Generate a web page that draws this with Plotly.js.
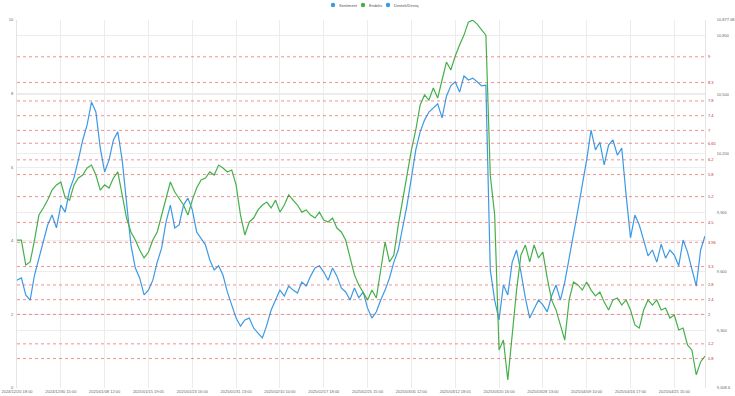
<!DOCTYPE html>
<html><head><meta charset="utf-8">
<script src="https://cdn.plot.ly/plotly-3.0.1.min.js"></script>
<style>html,body{margin:0;padding:0;background:#fff}#chart{width:735px;height:396px}</style>
</head><body><div id="chart"></div>
<script>
const tickLabels = ["2024/12/20 18:00","2024/12/30 15:00","2025/01/08 12:00","2025/01/15 19:05","2025/01/23 16:00","2025/01/31 13:00","2025/02/10 10:00","2025/02/17 18:00","2025/02/25 15:00","2025/03/05 12:00","2025/03/12 18:05","2025/03/20 16:00","2025/03/28 13:00","2025/04/09 10:00","2025/04/16 17:00","2025/04/25 15:00"];
const pointsPerTick = 10;

const sentiment = [2.93,2.99,2.53,2.39,3.07,3.53,4.02,4.43,4.70,4.35,4.97,4.78,5.38,5.71,6.20,6.74,7.15,7.77,7.50,6.52,
5.87,6.20,6.74,6.96,6.20,5.11,3.89,3.26,2.99,2.53,2.66,2.93,3.42,3.80,4.51,4.97,4.35,4.43,4.97,5.16,
4.84,4.24,4.08,3.89,3.48,3.21,3.32,3.07,2.61,2.26,1.90,1.68,1.85,1.90,1.63,1.49,1.36,1.71,2.12,2.39,
2.66,2.50,2.77,2.66,2.58,2.88,2.77,3.04,3.26,3.32,3.15,2.93,3.26,3.04,2.72,2.61,2.39,2.72,2.45,2.61,
2.17,1.90,2.07,2.39,2.66,2.99,3.42,3.75,4.35,4.97,5.71,6.47,6.96,7.28,7.50,7.61,7.72,7.34,7.93,8.21,
8.32,8.04,8.48,8.37,8.42,8.32,8.21,8.23,3.21,2.39,1.85,2.80,2.53,3.42,3.75,3.15,2.45,1.90,2.17,2.39,
2.26,2.07,2.50,2.80,2.39,2.88,3.53,4.24,4.84,5.52,6.20,7.01,6.47,6.68,6.06,6.60,6.74,6.33,6.52,5.24,
4.08,4.70,4.43,4.02,3.59,3.75,3.42,3.91,3.53,3.75,3.61,3.32,4.02,3.70,3.21,2.77,3.75,4.13];

const endeks = [9760,9760,9633,9649,9760,9887,9923,9963,10014,10040,10055,9974,9963,10040,10075,10090,10126,10141,10090,10014,
10040,10024,10075,10106,9989,9872,9801,9760,9709,9669,9699,9760,9801,9887,9974,10055,10004,9974,9938,9887,
9963,10024,10065,10075,10106,10090,10141,10126,10106,10116,10040,9887,9786,9852,9872,9913,9938,9953,9923,9963,
9902,9938,9989,9963,9938,9902,9913,9887,9872,9902,9862,9852,9872,9821,9801,9760,9669,9583,9532,9496,
9456,9506,9466,9608,9750,9649,9684,9836,9963,10075,10217,10319,10446,10497,10471,10532,10481,10573,10664,10624,
10695,10751,10801,10867,10877,10857,10827,10801,10090,9887,9202,9252,9049,9278,9506,9684,9735,9649,9735,9669,
9699,9567,9456,9405,9329,9252,9456,9547,9532,9506,9547,9506,9476,9496,9445,9405,9456,9466,9430,9456,
9405,9329,9313,9405,9456,9430,9456,9405,9415,9364,9379,9303,9313,9227,9202,9075,9141,9171];

const levels = [9, 8.3, 7.8, 7.4, 7, 6.65, 6.2, 5.8, 5.2, 4.5, 3.96, 3.3, 2.8, 2.4, 2, 1.2, 0.8];
const levelLabels = ["9","8.3","7.8","7.4","7","6.65","6.2","5.8","5.2","4.5","3.96","3.3","2.8","2.4","2","1.2","0.8"];

const leftTicks = [0,2,4,6,8,10];
const rightTicks = [9008.6,9300,9600,9900,10200,10500,10800,10877.68];
const rightTickText = ["9,008.6","9,300","9,600","9,900","10,200","10,500","10,800","10,877.68"];

const legendNames = ["Sentiment","Endeks","Destek/Direnç"];

const BLUE = "#3a9ae6", GREEN = "#45b04a", RED = "rgba(225,70,70,0.75)";
const FONT = "Liberation Sans, Arial, sans-serif";
const idx = sentiment.map((_, i) => i);

const traces = [
  {x: idx, y: sentiment, type: "scatter", mode: "lines", line: {color: BLUE, width: 1.2}, yaxis: "y", showlegend: false, hoverinfo: "skip"},
  {x: idx, y: endeks, type: "scatter", mode: "lines", line: {color: GREEN, width: 1.2}, yaxis: "y2", showlegend: false, hoverinfo: "skip"}
];

const shapes = levels.map(v => ({type: "line", xref: "paper", x0: 0, x1: 1, yref: "y", y0: v, y1: v,
  line: {color: RED, width: 0.8, dash: "dot"}}));
const annotations = levels.map((v, k) => ({xref: "paper", x: 1, xanchor: "left", xshift: 1, yref: "y", y: v,
  text: levelLabels[k], showarrow: false, font: {family: FONT, size: 4, color: "#c03030"}}));

// legend (drawn manually to match compact spacing)
const legendX = [333, 363, 388];
const legendColors = [BLUE, GREEN, BLUE];
const plotL = 17, plotR = 705, plotT = 20, plotB = 388;
legendNames.forEach((n, k) => {
  const px = (legendX[k] - plotL) / (plotR - plotL);
  const py = (plotB - 5) / (plotB - plotT);
  shapes.push({type: "circle", xref: "paper", yref: "paper", xsizemode: "pixel", ysizemode: "pixel",
    xanchor: px, yanchor: py, x0: -2.2, x1: 2.2, y0: -2.2, y1: 2.2, fillcolor: legendColors[k], line: {width: 0}});
  annotations.push({xref: "paper", yref: "paper", x: px, y: py, xshift: 4, xanchor: "left", yanchor: "middle",
    text: n, showarrow: false, font: {family: FONT, size: 4, color: "#555"}});
});

const layout = {
  width: 735, height: 396,
  margin: {l: 17, r: 30, t: 20, b: 8},
  paper_bgcolor: "#fff", plot_bgcolor: "#fff",
  font: {family: FONT, size: 4, color: "#666"},
  showlegend: false,
  xaxis: {range: [0, sentiment.length - 1], tickvals: tickLabels.map((_, k) => k * pointsPerTick), ticktext: tickLabels,
    tickangle: 0, showgrid: true, gridcolor: "#ececec", gridwidth: 1, zeroline: false, showline: false, ticks: "",
    tickfont: {size: 4, color: "#666"}, fixedrange: true},
  yaxis: {range: [0, 10], tickvals: leftTicks, showgrid: true, gridcolor: "#ececec", zeroline: false,
    showline: true, linecolor: "#e4e4e4", ticks: "", tickfont: {size: 4, color: "#666"}, ticklabelstandoff: 2},
  yaxis2: {range: [9008.6, 10877.68], overlaying: "y", side: "right", tickvals: rightTicks, ticktext: rightTickText,
    showgrid: true, gridcolor: "#ececec", zeroline: false, showline: true, linecolor: "#e4e4e4", ticks: "",
    tickfont: {size: 4, color: "#666"}, ticklabelstandoff: 10},
  shapes: shapes, annotations: annotations
};

Plotly.newPlot("chart", traces, layout, {displayModeBar: false, staticPlot: true});
</script>
</body></html>
